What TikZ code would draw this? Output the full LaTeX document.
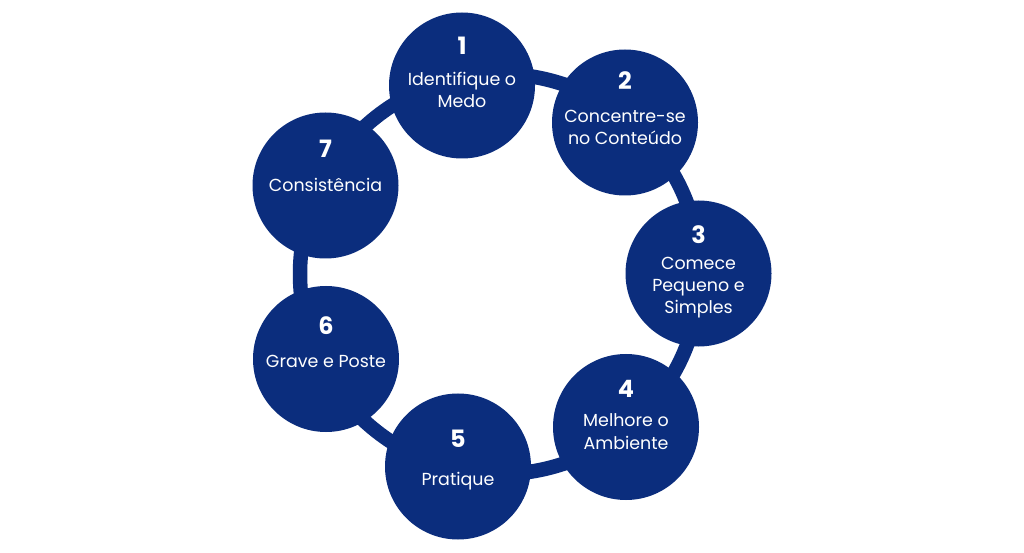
\documentclass[tikz,border=0pt]{standalone}
\usepackage{fontspec}
\setmainfont{Poppins}
\definecolor{navy}{HTML}{0B2D7D}
\begin{document}
\begin{tikzpicture}[x=1bp,y=-1bp,
  stepcircle/.style={circle,fill=navy,minimum size=146bp,inner sep=0pt},
  numtext/.style={text=white,anchor=base,font=\fontsize{24}{24}\selectfont\bfseries,inner sep=0pt},
  bodytext/.style={text=white,anchor=base,align=center,font=\fontsize{17.5}{22.5}\selectfont,inner sep=0pt}]
\useasboundingbox[fill=white] (0,0) rectangle (1024,553);
\coordinate (ringc) at (500,274);
\draw[navy,line width=14.5bp] (ringc) circle[radius=200bp];
\node[stepcircle] (c1) at (462,85.5) {};
\node[stepcircle] (c2) at (625,122.5) {};
\node[stepcircle] (c3) at (698.5,273.5) {};
\node[stepcircle] (c4) at (626,427) {};
\node[stepcircle] (c5) at (458,466.5) {};
\node[stepcircle] (c6) at (326,359) {};
\node[stepcircle] (c7) at (325.5,185.5) {};
\node[numtext] (n1) at (462,55) {1};
\node[bodytext] (t1) at (462,108) {Identifique o\\Medo};
\node[numtext] (n2) at (625,90) {2};
\node[bodytext] (t2) at (625,145) {Concentre-se\\no Conteúdo};
\node[numtext] (n3) at (698.5,244) {3};
\node[bodytext] (t3) at (698.5,314) {Comece\\Pequeno e\\Simples};
\node[numtext] (n4) at (626,397) {4};
\node[bodytext] (t4) at (626,449) {Melhore o\\Ambiente};
\node[numtext] (n5) at (458,447) {5};
\node[bodytext] (t5) at (458,485) {Pratique};
\node[numtext] (n6) at (326,335) {6};
\node[bodytext] (t6) at (326,368) {Grave e Poste};
\node[numtext] (n7) at (325.5,158) {7};
\node[bodytext] (t7) at (325.5,192) {Consistência};
\end{tikzpicture}
\end{document}
